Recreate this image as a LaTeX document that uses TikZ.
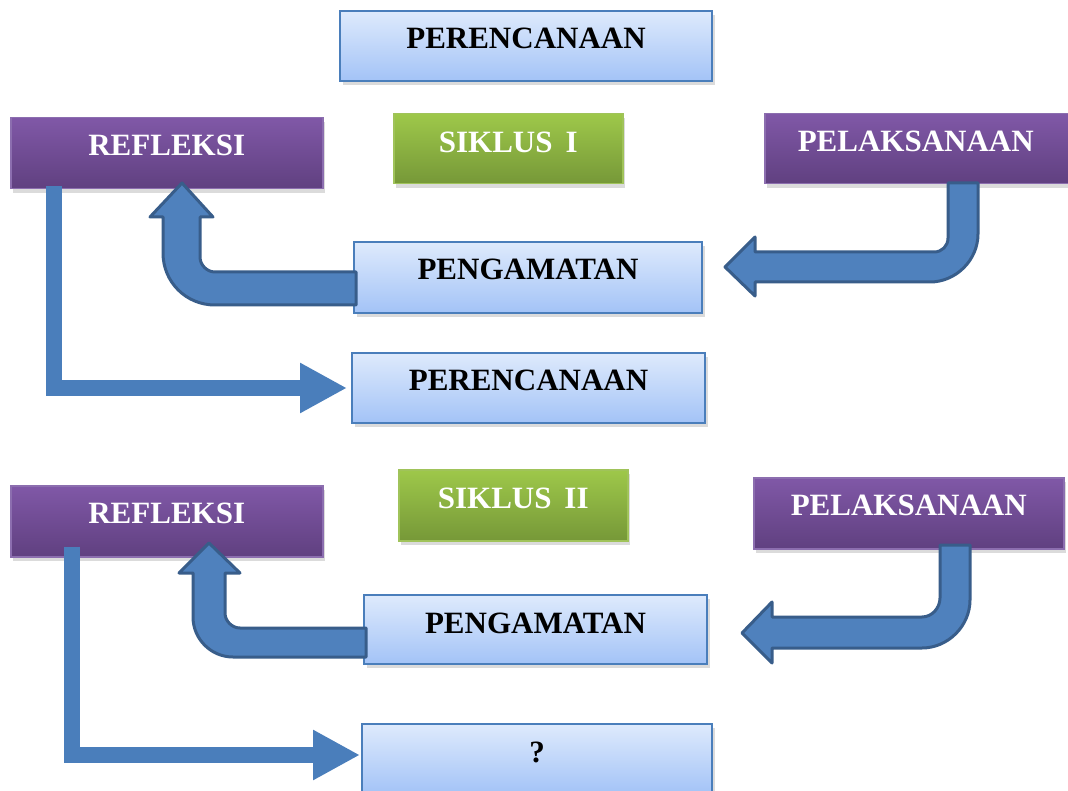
\documentclass[tikz,border=0pt]{standalone}
\usepackage{fontspec}
\setmainfont{Liberation Serif}
\usetikzlibrary{shadows,calc,arrows.meta}
\definecolor{bluetop}{RGB}{222,234,252}
\definecolor{bluebot}{RGB}{163,195,247}
\definecolor{bluebd}{RGB}{74,126,187}
\definecolor{purtop}{RGB}{128,88,167}
\definecolor{purbot}{RGB}{96,64,128}
\definecolor{purbd}{RGB}{140,110,175}
\definecolor{grntop}{RGB}{158,200,74}
\definecolor{grnbot}{RGB}{118,152,56}
\definecolor{grnbd}{RGB}{160,195,90}
\definecolor{arrfill}{RGB}{79,129,189}
\definecolor{arrline}{RGB}{56,93,138}
\definecolor{lfill}{RGB}{74,126,187}
\tikzset{
  box/.style={rectangle, inner sep=0pt, anchor=north west, text height=38pt,
    font=\fontsize{31}{36}\selectfont\bfseries,
    drop shadow={shadow xshift=2.5pt, shadow yshift=-4pt, opacity=.28}},
  bluebox/.style={box, draw=bluebd, line width=2pt, top color=bluetop, bottom color=bluebot, text=black},
  purbox/.style={box, draw=purbd, line width=1.5pt, top color=purtop, bottom color=purbot, text=white},
  grnbox/.style={box, draw=grnbd, line width=1.5pt, top color=grntop, bottom color=grnbot, text=white},
  blockarrow/.style={fill=arrfill, draw=arrline, line width=3pt, line join=round},
  lconn/.style={draw=lfill, line width=16pt, -{Triangle[length=47pt,width=47pt]}}
}
\begin{document}
\begin{tikzpicture}[x=1pt,y=-1pt]
\clip (0,0) rectangle (1068,791);
\fill[white] (0,0) rectangle (1068,791);
% ---------- Siklus I ----------
\node[bluebox, minimum width=372pt, minimum height=70pt, text depth=32pt] (per1) at (339,10) {PERENCANAAN};
\node[purbox, minimum width=312pt, minimum height=71pt, text depth=33pt] (ref1) at (10,117) {REFLEKSI};
\node[grnbox, minimum width=229pt, minimum height=70pt, text depth=31pt] (sik1) at (393,113) {SIKLUS\, I};
\node[purbox, minimum width=310pt, minimum height=70pt, text depth=32pt, text width=310pt, align=center] (pel1) at (764,113) {\hspace*{-8pt}PELAKSANAAN};
\node[bluebox, minimum width=348pt, minimum height=71pt, text depth=33pt] (peng1) at (353,241) {PENGAMATAN};
\node[bluebox, minimum width=353pt, minimum height=70pt, text depth=32pt] (per2) at (351,352) {PERENCANAAN};
% ---------- Siklus II ----------
\node[purbox, minimum width=312pt, minimum height=71pt, text depth=33pt] (ref2) at (10,485) {REFLEKSI};
\node[grnbox, minimum width=229pt, minimum height=71pt, text depth=32pt] (sik2) at (398,469) {SIKLUS\, II};
\node[purbox, minimum width=310pt, minimum height=71pt, text depth=33pt] (pel2) at (753,477) {PELAKSANAAN};
\node[bluebox, minimum width=343pt, minimum height=69pt, text depth=31pt] (peng2) at (363,594) {PENGAMATAN};
\node[bluebox, minimum width=350pt, minimum height=70pt, text depth=32pt] (q) at (361,723) {?};
% ---------- block arrows ----------
% PENGAMATAN 1 -> REFLEKSI 1
\path[blockarrow] (356,272) -- (215,272) .. controls (207,272) and (200,265) .. (200,257)
  -- (200,217) -- (213,217) -- (182,183) -- (150,217) -- (163,217) -- (163,253)
  .. controls (163,282) and (186,305) .. (215,305) -- (356,305) -- cycle;
% PELAKSANAAN 1 -> PENGAMATAN 1
\path[blockarrow] (948,183) -- (948,238) .. controls (948,246) and (942,252) .. (934,252)
  -- (755,252) -- (755,237) -- (725,267) -- (755,296) -- (755,282) -- (930,282)
  .. controls (956,282) and (978,260) .. (978,234) -- (978,183) -- cycle;
% PENGAMATAN 2 -> REFLEKSI 2
\path[blockarrow] (366,628) -- (240,628) .. controls (232,628) and (225,621) .. (225,613)
  -- (225,573) -- (240,573) -- (209,543) -- (179,573) -- (193,573) -- (193,617)
  .. controls (193,639) and (211,657) .. (233,657) -- (366,657) -- cycle;
% PELAKSANAAN 2 -> PENGAMATAN 2
\path[blockarrow] (940,545) -- (940,598) .. controls (940,608) and (932,617) .. (922,617)
  -- (772,617) -- (772,602) -- (742,633) -- (772,663) -- (772,648) -- (922,648)
  .. controls (948,648) and (970,626) .. (970,600) -- (970,545) -- cycle;
% ---------- L connectors ----------
\draw[lconn] ($(ref1.south west)+(44,-3)$) |- ([xshift=-4pt]per2.west);
\draw[lconn] ($(ref2.south west)+(62,-11)$) |- ([xshift=-1pt,yshift=4pt]q.west);
\end{tikzpicture}
\end{document}
